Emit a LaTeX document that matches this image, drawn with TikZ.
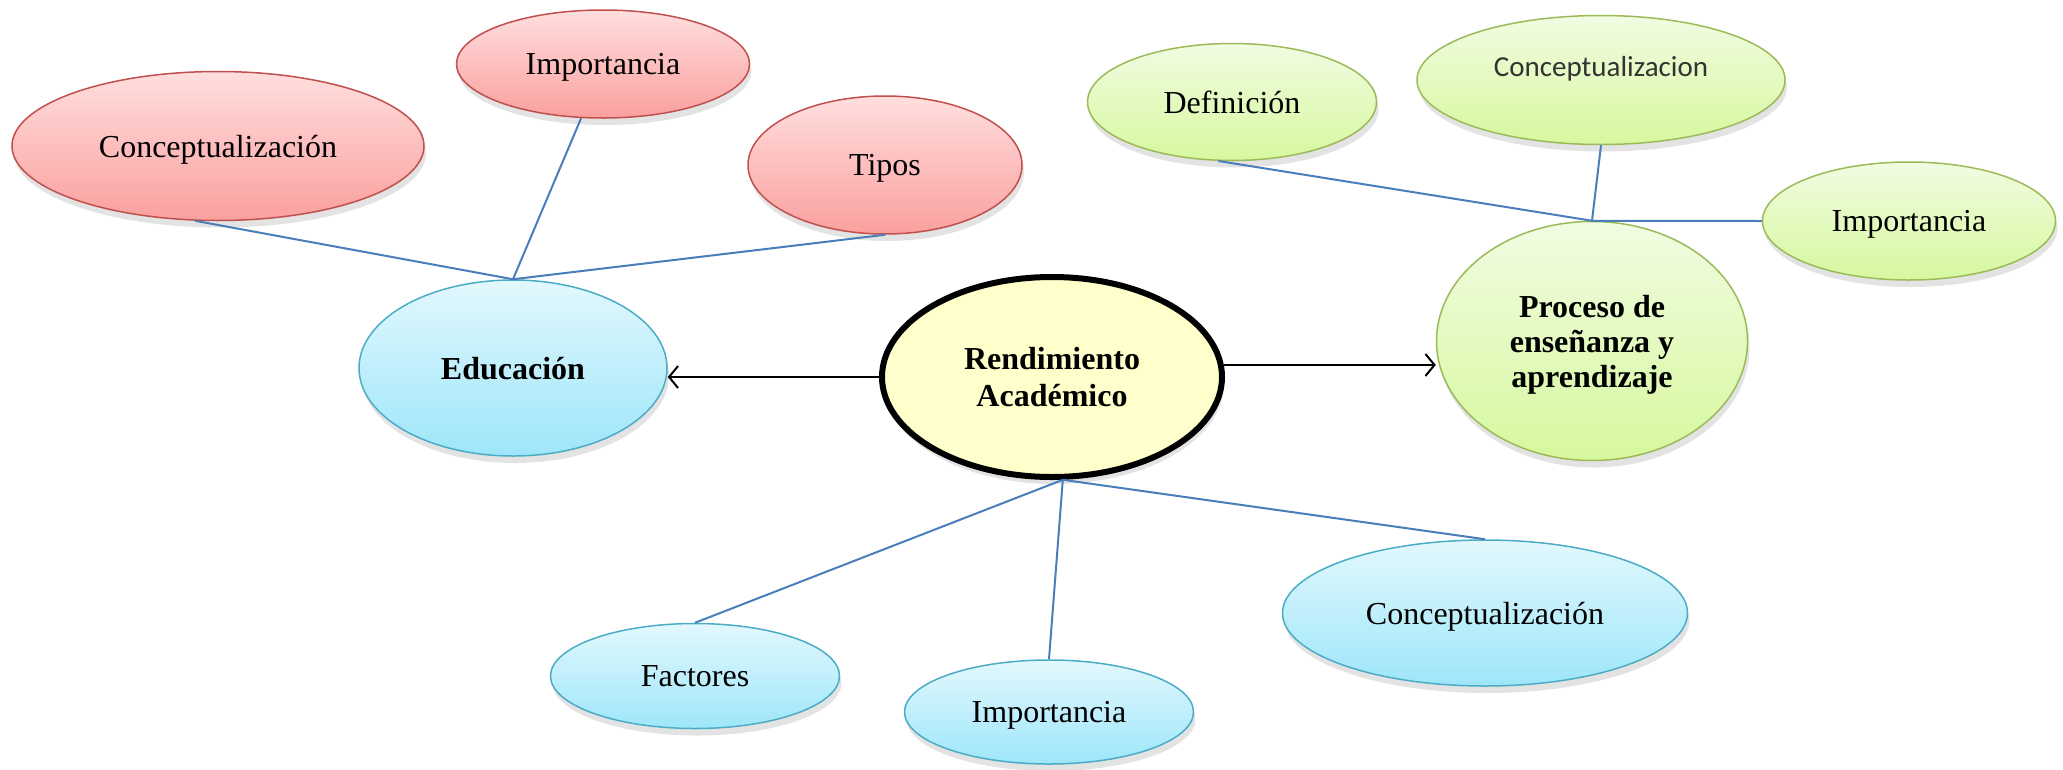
\documentclass[tikz,border=0pt]{standalone}
\usepackage{fontspec}
\setmainfont{Liberation Serif}
\newfontfamily\calibri{Carlito}
\usepackage{tikz}
\usetikzlibrary{shapes.geometric,shadows,arrows.meta}
\tikzset{>={Straight Barb[length=9pt,width=22pt]}}
\definecolor{redtop}{RGB}{255,222,222}
\definecolor{redbot}{RGB}{250,160,158}
\definecolor{redline}{RGB}{192,80,77}
\definecolor{bluetop}{RGB}{226,248,253}
\definecolor{bluebot}{RGB}{158,230,250}
\definecolor{blueline}{RGB}{75,172,198}
\definecolor{greentop}{RGB}{241,252,226}
\definecolor{greenbot}{RGB}{214,248,158}
\definecolor{greenline}{RGB}{155,187,89}
\definecolor{centrefill}{RGB}{255,255,204}
\definecolor{linkblue}{RGB}{74,126,187}

\begin{document}
\begin{tikzpicture}[x=1pt,y=-1pt]
      \tikzstyle{bubble}=[ellipse,inner sep=0pt,line width=1.5pt,align=center,text depth=0pt,
        font=\fontsize{32}{36}\selectfont,
        drop shadow={opacity=.22,shadow xshift=2pt,shadow yshift=-7pt}];
      \tikzstyle{pinkbub}=[bubble,draw=redline,top color=redtop,bottom color=redbot];
      \tikzstyle{bluebub}=[bubble,draw=blueline,top color=bluetop,bottom color=bluebot];
      \tikzstyle{greenbub}=[bubble,draw=greenline,top color=greentop,bottom color=greenbot];
      \tikzstyle{link}=[draw=linkblue,line width=2pt];
      \useasboundingbox (0,0) rectangle (2063,769);

      % centre
      \node[bubble,draw=black,line width=6pt,fill=centrefill,minimum width=340,minimum height=200,
        font=\fontsize{32}{37}\selectfont\bfseries] (rend) at (1052,377) {Rendimiento\\Académico};

      % Educación and its branches
      \node[bluebub,minimum width=308,minimum height=176,font=\fontsize{32}{36}\selectfont\bfseries] (edu) at (513,368) {Educación};
      \node[pinkbub,minimum width=412,minimum height=149] (eduCon) at (218,146) {Conceptualización};
      \node[pinkbub,minimum width=293,minimum height=108] (eduImp) at (603,64) {Importancia};
      \node[pinkbub,minimum width=274,minimum height=138] (eduTip) at (885,165) {Tipos};

      % Proceso and its branches
      \node[greenbub,minimum width=311,minimum height=239,font=\fontsize{32}{35}\selectfont\bfseries] (proc) at (1592,341) {Proceso de\\enseñanza y\\aprendizaje};
      \node[greenbub,minimum width=289,minimum height=117] (proDef) at (1232,102) {Definición};
      \node[greenbub,minimum width=368,minimum height=129,font=\calibri\fontsize{29}{34}\selectfont,text=black!80] (proCon) at (1601,80) {\raisebox{14pt}[\height][\depth]{Conceptualizacion}};
      \node[greenbub,minimum width=293,minimum height=118] (proImp) at (1909,221) {Importancia};

      % branches below the centre
      \node[bluebub,minimum width=289,minimum height=105] (renFac) at (695,676) {Factores};
      \node[bluebub,minimum width=289,minimum height=104] (renImp) at (1049,712) {Importancia};
      \node[bluebub,minimum width=405,minimum height=146] (renCon) at (1485,613) {Conceptualización};

      \draw[link] (edu.north) -- (eduCon.-107);
      \draw[link] (edu.north) -- (eduImp.-112);
      \draw[link] (edu.north) -- (eduTip.south);
      \draw[link] (proc.north) -- (proDef.-103);
      \draw[link] (proc.north) -- (proCon.south);
      \draw[link] (proc.north) -- (proImp.west);
      \draw[link] (rend.-84) -- (renFac.north);
      \draw[link] (rend.-84) -- (renImp.north);
      \draw[link] (rend.-84) -- (renCon.north);

      \draw[line width=2pt,->] (rend.west) -- (rend.west -| edu.east);
      \draw[line width=2pt,->] (rend.4) -- (rend.4 -| proc.west);
\end{tikzpicture}
\end{document}
